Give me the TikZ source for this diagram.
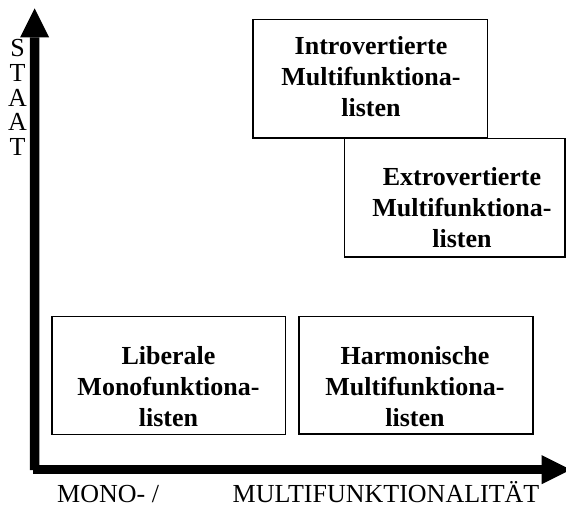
\documentclass[tikz,border=0pt]{standalone}
\usepackage{fontspec}
\setmainfont{Liberation Serif}
\usetikzlibrary{arrows.meta}

\begin{document}
\begin{tikzpicture}[x=1pt,y=-1pt,
  axis/.style={line width=9.5pt,
    -{Triangle[length=29pt,width=29pt,line width=0pt]}},
  frame/.style={draw, rectangle, line width=1.8pt, inner sep=0pt},
  boxtext/.style={align=center, inner sep=0pt,
    font=\fontsize{26}{31}\selectfont\bfseries},
  axislabel/.style={inner sep=0pt, font=\fontsize{26}{31}\selectfont}]
\useasboundingbox (0,0) rectangle (566,507);
\clip (0,0) rectangle (566,507);
\fill[white] (0,0) rectangle (566,507);

% the four groups
\node[frame, minimum width=234.2pt, minimum height=118.5pt] (intro) at (370.4,78.75) {};
\node[frame, minimum width=220.5pt, minimum height=118.2pt] (extro) at (454.75,197.6) {};
\node[frame, minimum width=233.8pt, minimum height=118pt] (lib) at (168.6,375.5) {};
\node[frame, minimum width=234.5pt, minimum height=117.5pt] (harm) at (416.05,375.25) {};

\node[boxtext] (introtext) at (371,76.4) {Introvertierte\\Multifunktiona-\\listen};
\node[boxtext] (extrotext) at (462,207.4) {Extrovertierte\\Multifunktiona-\\listen};
\node[boxtext] (libtext) at (168.5,387) {Liberale\\Monofunktiona-\\listen};
\node[boxtext] (harmtext) at (415,387) {Harmonische\\Multifunktiona-\\listen};

% axes
\coordinate (vbase) at (34.7,470);
\coordinate (ytip) at (34.6,8.3);
\coordinate (hbase) at (33,469.7);
\coordinate (xtip) at (570.7,469.7);
\draw[axis] (vbase) -- (ytip);
\draw[axis] (hbase) -- (xtip);

% axis labels
\node[axislabel, align=center, anchor=north, font=\fontsize{26}{24.6}\selectfont]
  (staat) at (17.5,39.5) {S\\T\\A\\A\\T};
\node[axislabel, anchor=base west] (mono) at (57,502) {MONO- /};
\node[axislabel, anchor=base west] (multi) at (232.5,502) {MULTIFUNKTIONALITÄT};
\end{tikzpicture}
\end{document}
